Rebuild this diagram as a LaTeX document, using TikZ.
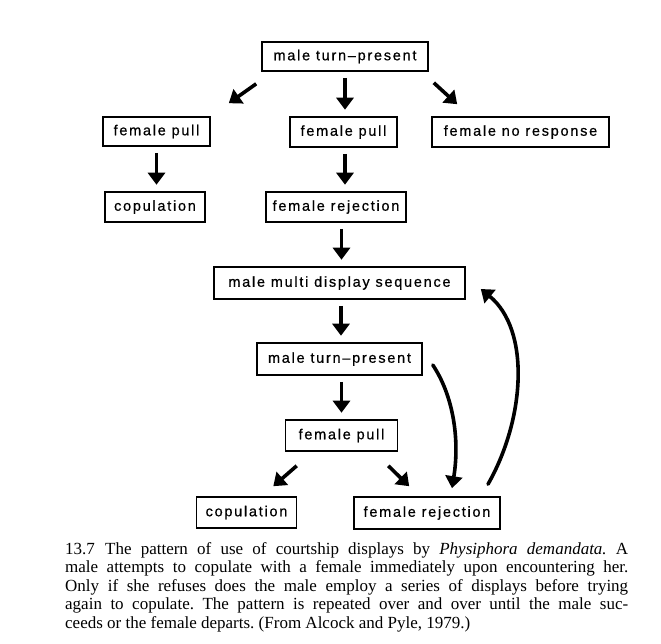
\documentclass[tikz,border=0pt]{standalone}
\usepackage{fontspec}
\setmainfont{Liberation Serif}
\newfontfamily\boxfont[LetterSpace=12,FakeBold=0.6]{Liberation Sans}
\usetikzlibrary{arrows.meta,calc}
\begin{document}
\frenchspacing
\begin{tikzpicture}[x=1pt,y=-1pt,
  box/.style={draw,line width=1.6pt,minimum height=30pt,inner sep=0pt,
    font=\boxfont\fontsize{14.5}{16}\selectfont},
  arr/.style={line width=3.6pt,-{Triangle[width=17pt,length=12pt]}},
  gap/.style={shorten <=6pt,shorten >=6.5pt},
]
\useasboundingbox[fill=white] (0,0) rectangle (661,643);

\node[box,minimum width=166pt,minimum height=29pt] (t1) at (345,56.5) {male turn–present};
\node[box,minimum width=107pt,minimum height=29pt] (p1) at (156.5,131.5) {female pull};
\node[box,minimum width=107pt] (p2) at (343.5,132) {female pull};
\node[box,minimum width=177pt] (nr) at (520.5,132) {female no response};
\node[box,minimum width=100pt] (c1) at (155,207) {copulation};
\node[box,minimum width=140pt] (r1) at (336,207) {female rejection};
\node[box,minimum width=251pt,minimum height=32pt] (m) at (339.5,283) {male multi display sequence};
\node[box,minimum width=165pt,minimum height=32pt] (t2) at (339.5,359) {male turn–present};
\node[box,minimum width=112pt,minimum height=31pt] (p3) at (341.5,435.5) {female pull};
\node[box,minimum width=100pt,minimum height=31pt] (c2) at (246.5,512.5) {copulation};
\node[box,minimum width=146pt,minimum height=32pt] (r2) at (427,513) {female rejection};

% diagonal arrows
\coordinate (a1s) at ($(t1.south west)+(-5,12)$);
\coordinate (a1e) at ($(p1.north east)+(18,-13)$);
\coordinate (a2s) at ($(t1.south east)+(5,11)$);
\coordinate (a2e) at ($(nr.north west)+(26,-12)$);
\coordinate (a3s) at ($(p3.south west)+(12,14)$);
\coordinate (a3e) at ($(c2.north east)+(-24,-10)$);
\coordinate (a4s) at ($(p3.south east)+(-10,14)$);
\coordinate (a4e) at ($(r2.north west)+(56,-10)$);
\draw[arr] (a1s) -- (a1e);
\draw[arr] (a2s) -- (a2e);
\draw[arr] (a3s) -- (a3e);
\draw[arr] (a4s) -- (a4e);

% vertical arrows
\draw[arr,gap] (t1.south) -- (t1.south |- p2.north);
\draw[arr,gap] (p1.south) -- (p1.south |- c1.north);
\draw[arr,gap] ([xshift=1.5pt]p2.south) -- ([xshift=1.5pt]p2.south |- r1.north);
\draw[arr,gap] ([xshift=2pt]m.north |- r1.south) -- ([xshift=2pt]m.north);
\draw[arr,gap] ([xshift=1.5pt]m.south) -- ([xshift=1.5pt]m.south |- t2.north);
\draw[arr,gap] (p3.north |- t2.south) -- (p3.north);

% curved arrows
\coordinate (b1s) at ($(t2.east)+(10,6)$);
\coordinate (b1e) at ($(r2.north)+(25,-8)$);
\draw[arr,line cap=round] (b1s) .. controls ($(b1s)+(20,30)$) and ($(b1e)+(8,-50)$) .. (b1e);
\coordinate (b2s) at ($(r2.north)+(61,-12)$);
\coordinate (b2e) at ($(m.east)+(15,6)$);
\draw[arr,line cap=round] (b2s) .. controls ($(b2s)+(37,-65)$) and ($(b2e)+(50,41)$) .. (b2e);

\node[anchor=north west,inner sep=0pt,text width=563pt,align=justify,
  font=\fontsize{17}{18.6}\selectfont] (cap) at (65,542)
 {13.7\hskip0.6em The pattern of use of courtship displays by \textit{Physiphora demandata.} A\linebreak
 male attempts to copulate with a female immediately upon encountering her.\linebreak
 Only if she refuses does the male employ a series of displays before trying\linebreak
 again to copulate. The pattern is repeated over and over until the male suc-\linebreak
 ceeds or the female departs. (From Alcock and Pyle, 1979.)};
\end{tikzpicture}
\end{document}
